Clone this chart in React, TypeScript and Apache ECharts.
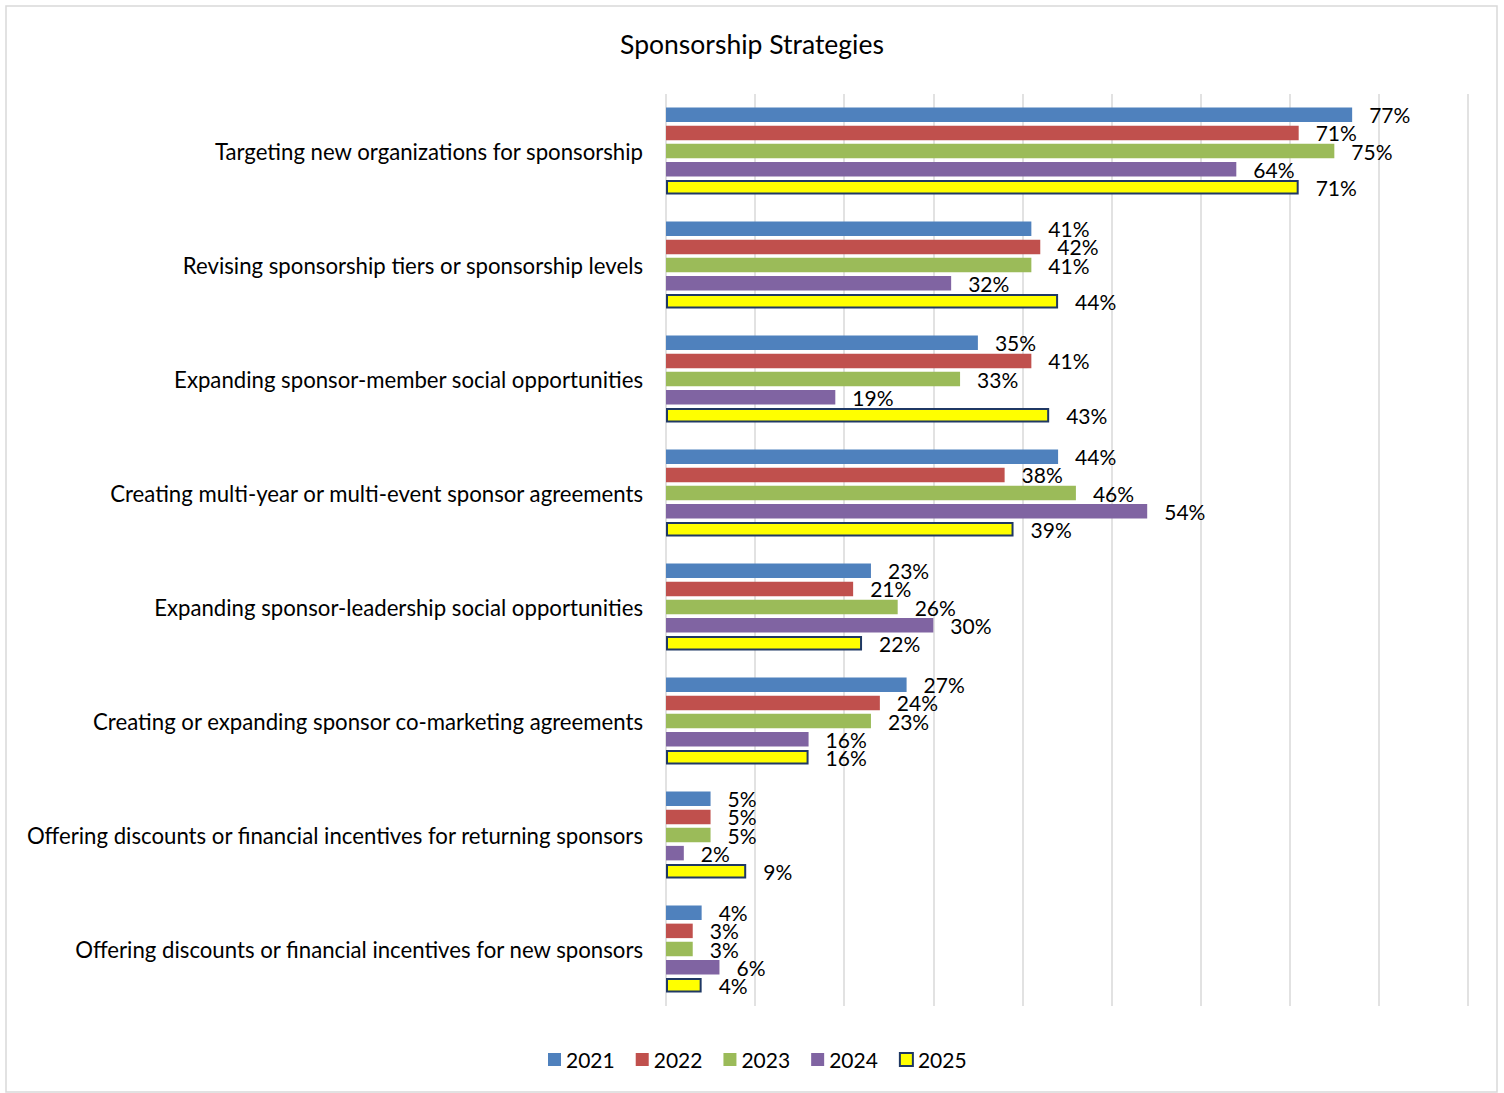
import React, { useEffect, useRef } from "react";
import * as echarts from "echarts";

const categories = [
  "Targeting new organizations for sponsorship",
  "Revising sponsorship tiers or sponsorship levels",
  "Expanding sponsor-member social opportunities",
  "Creating multi-year or multi-event sponsor agreements",
  "Expanding sponsor-leadership social opportunities",
  "Creating or expanding sponsor co-marketing agreements",
  "Offering discounts or financial incentives for returning sponsors",
  "Offering discounts or financial incentives for new sponsors",
];

const years = ["2021", "2022", "2023", "2024", "2025"];

const values2021 = [77, 41, 35, 44, 23, 27, 5, 4];
const values2022 = [71, 42, 41, 38, 21, 24, 5, 3];
const values2023 = [75, 41, 33, 46, 26, 23, 5, 3];
const values2024 = [64, 32, 19, 54, 30, 16, 2, 6];
const values2025 = [71, 44, 43, 39, 22, 16, 9, 4];

const seriesValues = [values2021, values2022, values2023, values2024, values2025];
const colors = ["#4F81BD", "#C0504D", "#9BBB59", "#8064A2", "#FFFF00"];

const FONT = "Lato, 'Noto Sans', sans-serif";

export default function App() {
  const ref = useRef<HTMLDivElement>(null);
  useEffect(() => {
    if (!ref.current) return;
    const chart = echarts.init(ref.current, null, { renderer: "svg" });
    chart.setOption({
      animation: false,
      backgroundColor: "#ffffff",
      textStyle: { fontFamily: FONT },
      title: {
        text: "Sponsorship Strategies",
        left: "center",
        top: 25,
        textStyle: { fontFamily: FONT, fontSize: 26.5, fontWeight: "normal", color: "#000" },
      },
      graphic: [
        {
          type: "rect",
          shape: { x: 6, y: 6, width: 1491, height: 1086 },
          style: { fill: "none", stroke: "#d9d9d9", lineWidth: 1.5 },
          silent: true,
        },
      ],
      legend: {
        bottom: 18,
        left: 543,
        itemWidth: 13,
        itemHeight: 13,
        itemGap: 21,
        icon: "rect",
        textStyle: { fontFamily: FONT, fontSize: 21, color: "#000" },
        data: years,
      },
      grid: { left: 666, right: 36, top: 94, height: 912, containLabel: false },
      xAxis: {
        type: "value",
        min: 0,
        max: 90,
        interval: 10,
        axisLabel: { show: false },
        axisLine: { show: false },
        axisTick: { show: false },
        splitLine: { show: true, lineStyle: { color: "#d9d9d9", width: 1.5 } },
      },
      yAxis: {
        type: "category",
        data: categories,
        inverse: true,
        axisLine: { show: false },
        axisTick: { show: false },
        axisLabel: { fontFamily: FONT, fontSize: 22.2, color: "#000", margin: 23 },
      },
      series: years.map((y, i) => ({
        name: y,
        type: "bar",
        data: seriesValues[i],
        barWidth: 14.5,
        barGap: "25%",
        itemStyle:
          i === 4
            ? { color: colors[i], borderColor: "#1F3864", borderWidth: 2 }
            : { color: colors[i] },
        label: {
          show: true,
          position: "right",
          distance: 17,
          formatter: "{c}%",
          fontFamily: FONT,
          fontSize: 21,
          color: "#000",
        },
      })),
    });
    return () => chart.dispose();
  }, []);
  return (
    <div
      ref={ref}
      style={{ position: "fixed", left: 0, top: 0, width: 1504, height: 1093 }}
    />
  );
}
